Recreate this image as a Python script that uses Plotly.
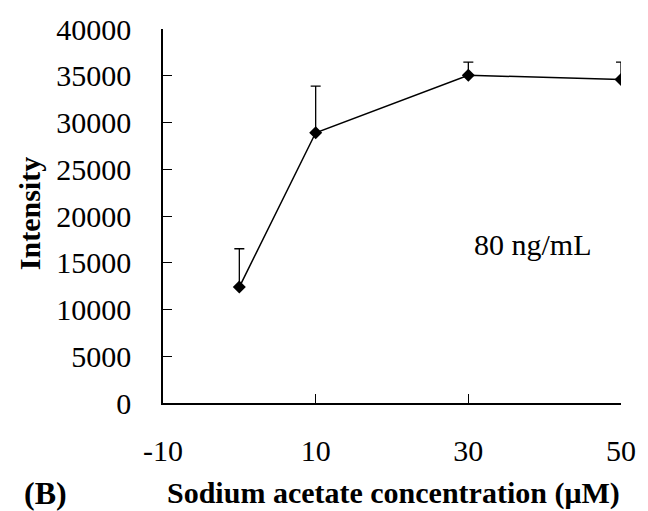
import plotly.graph_objects as go

x_vals = [0, 10, 30, 50]
intensity = [12400, 28900, 35050, 34600]
err_upper = [4100, 5000, 1400, 1850]
x_ticks = [-10, 10, 30, 50]
y_ticks = [0, 5000, 10000, 15000, 20000, 25000, 30000, 35000, 40000]

FONT = "Liberation Serif, Times New Roman, serif"

W, H = 648, 511
l, r, t, b = 163, 18, 24, 108

fig = go.Figure()
fig.add_trace(go.Scatter(
    x=x_vals, y=intensity, mode="lines+markers",
    line=dict(color="black", width=1.5),
    marker=dict(symbol="diamond", size=10, color="black"),
    error_y=dict(type="data", symmetric=False, array=err_upper,
                 arrayminus=[0, 0, 0, 0], color="black", thickness=1.3, width=5),
    showlegend=False,
))

fig.update_layout(
    width=W, height=H,
    margin=dict(l=l, r=r, t=t, b=b),
    paper_bgcolor="white", plot_bgcolor="white",
    font=dict(family=FONT, size=30, color="black"),
    xaxis=dict(range=[-10, 50], tickvals=x_ticks, ticktext=[str(v) for v in x_ticks],
               showline=True, linecolor="black", linewidth=1.5, showgrid=False,
               zeroline=False, ticks="inside", ticklen=9, tickwidth=1.3, tickcolor="black",
               ticklabelstandoff=20, tickfont=dict(size=30)),
    yaxis=dict(range=[0, 40000], tickvals=y_ticks, ticktext=[str(v) for v in y_ticks],
               showline=True, linecolor="black", linewidth=1.5, showgrid=False,
               zeroline=False, ticks="inside", ticklen=9, tickwidth=1.3, tickcolor="black",
               ticklabelstandoff=24, tickfont=dict(size=30)),
)

pw, ph = W - l - r, H - t - b
def ann(text, px, py, size, angle=0):
    return dict(text=text, x=(px - l) / pw, y=1 - (py - t) / ph, xref="paper", yref="paper",
                xanchor="center", yanchor="middle", showarrow=False, textangle=angle,
                font=dict(size=size))

fig.update_layout(annotations=[
    ann("<b>Intensity</b>", 27, 211, 30, -90),
    ann("80 ng/mL", 540, 242, 30),
    ann("<b>Sodium acetate concentration (μM)</b>", 398, 494, 30),
    ann("<b>(B)</b>", 43, 494, 32),
])

fig.write_html("out.html")
